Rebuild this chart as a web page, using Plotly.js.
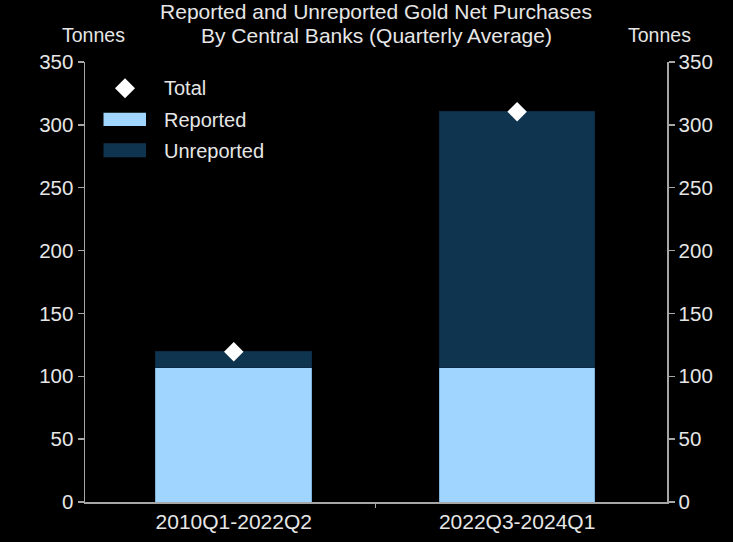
<!DOCTYPE html>
<html>
<head>
<meta charset="utf-8">
<script src="https://cdn.plot.ly/plotly-3.0.1.min.js"></script>
<style>
html,body{margin:0;padding:0;background:#000;}
#chart{width:733px;height:542px;}
</style>
</head>
<body>
<div id="chart"></div>
<script>
// ---- data ----
var periods = ["2010Q1-2022Q2", "2022Q3-2024Q1"];
var periodPos = [0, 1];
var reported = [107, 107];
var unreported = [12.5, 203.5];
var total = [119.5, 310.5];
var yTicks = [0, 50, 100, 150, 200, 250, 300, 350];

// ---- style ----
var W = 733, H = 542;
var L = 85, R = 66, T = 62, B = 40;
var plotW = W - L - R, plotH = H - T - B;
var txt = '#e6e6e6';
var axisCol = '#a6a6a6';
var fontFam = '"Liberation Sans", Arial, sans-serif';
var lightBlue = '#a0d5ff';
var darkBlue = '#0e3450';
var xr = [-0.525, 1.529];

function px(x){ return (x - L) / plotW; }
function py(y){ return (H - B - y) / plotH; }

var traces = [
  {type:'bar', name:'Reported', x: periodPos, y: reported, width:0.549,
   marker:{color: lightBlue, line:{color:'#7fb2db', width:1}}, hoverinfo:'y', showlegend:false},
  {type:'bar', name:'Unreported', x: periodPos, y: unreported, width:0.549,
   marker:{color: darkBlue, line:{color:'#0b2c44', width:1}}, hoverinfo:'y', showlegend:false},
  {type:'scatter', mode:'markers', name:'Total', x: periodPos, y: total,
   marker:{symbol:'diamond', size:15, color:'#ffffff'}, showlegend:false},
  {type:'scatter', mode:'markers', x:[0], y:[0], xaxis:'x2', yaxis:'y2',
   marker:{opacity:0}, hoverinfo:'skip', showlegend:false}
];

// custom legend
var shapes = [];
var annotations = [];
var dc = [125, 88.3], dh = 10;
shapes.push({type:'path', xref:'paper', yref:'paper',
  path: 'M' + px(dc[0]-dh) + ',' + py(dc[1]) + ' L' + px(dc[0]) + ',' + py(dc[1]-dh) +
        ' L' + px(dc[0]+dh) + ',' + py(dc[1]) + ' L' + px(dc[0]) + ',' + py(dc[1]+dh) + ' Z',
  fillcolor:'#ffffff', line:{width:0}});
shapes.push({type:'rect', xref:'paper', yref:'paper', x0:px(103.5), x1:px(146), y0:py(126), y1:py(112.7),
  fillcolor: lightBlue, line:{width:0}});
shapes.push({type:'rect', xref:'paper', yref:'paper', x0:px(103.5), x1:px(146), y0:py(157.3), y1:py(143.3),
  fillcolor: darkBlue, line:{width:0}});
var legNames = ['Total', 'Reported', 'Unreported'];
var legY = [88.5, 119.5, 150.5];
for (var i = 0; i < 3; i++) {
  annotations.push({xref:'paper', yref:'paper', x:px(162), y:py(legY[i]), xanchor:'left', yanchor:'middle',
    text: legNames[i], showarrow:false, font:{family:fontFam, size:20, color:txt}});
}
annotations.push({xref:'paper', yref:'paper', x:px(93.5), y:py(34.5), xanchor:'center', yanchor:'middle',
  text:'Tonnes', showarrow:false, font:{family:fontFam, size:19.5, color:txt}});
annotations.push({xref:'paper', yref:'paper', x:px(659), y:py(34.5), xanchor:'center', yanchor:'middle',
  text:'Tonnes', showarrow:false, font:{family:fontFam, size:19.5, color:txt}});
// second title line
annotations.push({xref:'paper', yref:'paper', x:0.5, y:py(35), xanchor:'center', yanchor:'middle',
  text:'By Central Banks (Quarterly Average)', showarrow:false, font:{family:fontFam, size:21, color:txt}});

var yax = {range:[0,350], tickvals: yTicks, ticktext: yTicks.map(String), showgrid:false, zeroline:false,
  showline:true, linecolor:axisCol, linewidth:1.5, ticks:'outside', ticklen:6, tickcolor:axisCol, tickwidth:1.5,
  tickfont:{family:fontFam, size:20.5, color:txt}, fixedrange:true};

var layout = {
  width: W, height: H,
  paper_bgcolor:'#000000', plot_bgcolor:'#000000',
  margin:{l:L, r:R, t:T, b:B, pad:0},
  barmode:'stack',
  showlegend:false,
  font:{family:fontFam, color:txt, size:20},
  title:{text:'Reported and Unreported Gold Net Purchases',
    x:0.5, xref:'paper', xanchor:'center', y:1 - 12/542, yref:'container', yanchor:'middle',
    font:{family:fontFam, size:21, color:txt}},
  xaxis:{range:xr, tickvals: periodPos, ticktext: periods, showgrid:false, zeroline:false,
    showline:true, linecolor:axisCol, linewidth:1.5, ticks:'',
    tickfont:{family:fontFam, size:21, color:txt}, fixedrange:true},
  xaxis2:{range:xr, overlaying:'x', tickvals:[0.5], showticklabels:false, ticks:'outside', ticklen:5,
    tickcolor:axisCol, tickwidth:1.5, showgrid:false, zeroline:false, showline:false, side:'bottom', anchor:'y'},
  yaxis: yax,
  yaxis2: Object.assign({}, yax, {overlaying:'y', side:'right', anchor:'x'}),
  shapes: shapes,
  annotations: annotations
};

Plotly.newPlot('chart', traces, layout, {displayModeBar:false, staticPlot:true});
</script>
</body>
</html>
